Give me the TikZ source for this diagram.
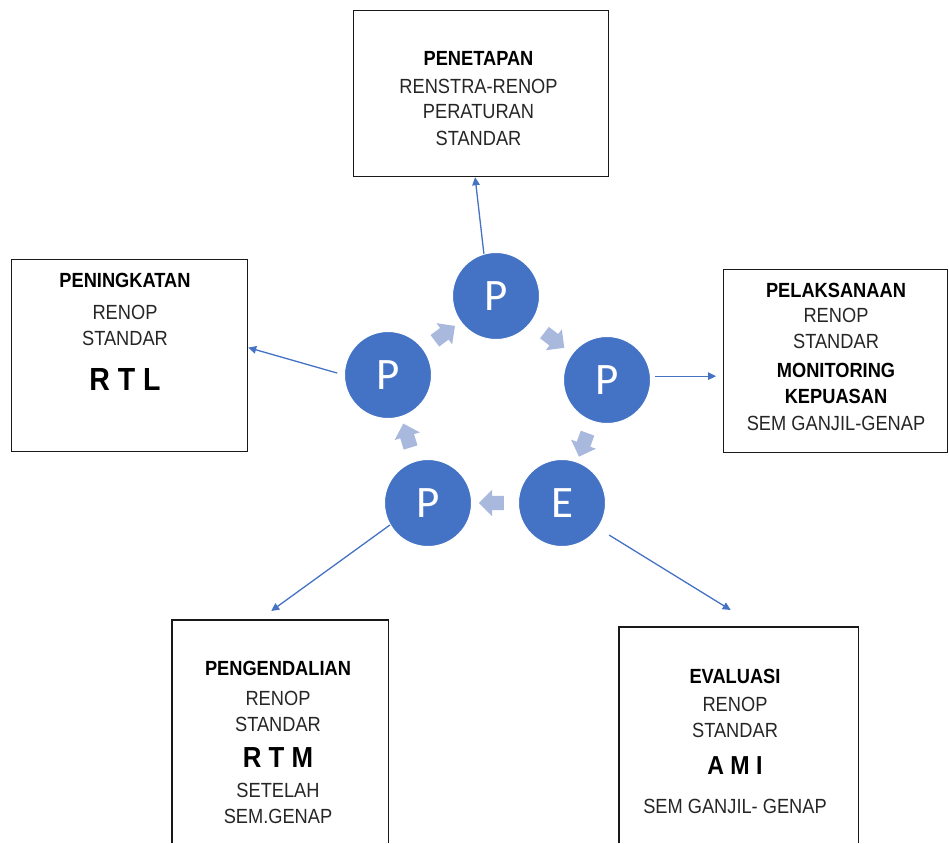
\documentclass[tikz,border=0pt]{standalone}
\usepackage{fontspec}
\setmainfont{Liberation Sans}[FakeStretch=0.89]
\newfontfamily\circfont{Carlito}
\usetikzlibrary{arrows.meta,shapes.arrows,calc}
\definecolor{pblue}{HTML}{4472C4}
\definecolor{lblue}{HTML}{A9B9DE}
\definecolor{txtc}{HTML}{262626}
\begin{document}
\begin{tikzpicture}[x=1pt,y=-1pt,
  box/.style={draw=black!90, line width=1.2pt, inner sep=0pt, anchor=north west},
  openbox/.style={draw=none, inner sep=0pt, anchor=north west},
  pcirc/.style={circle, fill=pblue, draw=white, line width=1pt, minimum size=87pt, inner sep=0pt,
    text=white, font=\circfont\fontsize{45}{45}\selectfont},
  fat/.style={single arrow, fill=lblue, draw=none, inner sep=0pt, inner ysep=7pt,
    minimum height=25pt, single arrow head extend=6pt},
  conn/.style={draw=pblue, line width=1.3pt, -{Triangle[length=8pt,width=7.5pt]}},
  ln/.style={anchor=base, inner sep=0pt, text=txtc, font=\fontsize{20.5}{24}\selectfont},
  hd/.style={ln, text=black, font=\fontsize{20.5}{24}\selectfont\bfseries},
  big/.style={anchor=base, inner sep=0pt, text=black, font=\fontsize{#1}{#1}\selectfont\bfseries}
]
\useasboundingbox (0,0) rectangle (949,843);

% boxes
\node[box, minimum width=255pt, minimum height=166pt] (topbox) at (353,10) {};
\node[box, minimum width=236pt, minimum height=192pt] (lbox) at (11,259) {};
\node[box, minimum width=224pt, minimum height=183pt] (rbox) at (723,269) {};
\node[openbox, minimum width=216pt, minimum height=223pt] (blbox) at (172,620) {};
\node[openbox, minimum width=239pt, minimum height=216pt] (brbox) at (619,627) {};
\draw[black!90, line width=1.2pt] (blbox.south west) |- (blbox.north east) -- (blbox.south east);
\draw[black!90, line width=1.2pt] (brbox.south west) |- (brbox.north east) -- (brbox.south east);

% circles
\node[pcirc] (tp) at (496,296) {P};
\node[pcirc] (rp) at (607,380) {P};
\node[pcirc] (ep) at (562,503) {E};
\node[pcirc] (bp) at (428,503) {P};
\node[pcirc] (lp) at (388,375) {P};

% cycle arrows
\node[fat, rotate=36.5] (f1) at ($(lp)!0.5!(tp)$) {};
\node[fat, rotate=-37.5] (f2) at ($(tp)!0.5!(rp)$) {};
\node[fat, rotate=-110] (f3) at ($(rp)!0.5!(ep)$) {};
\node[fat, rotate=180] (f4) at ($(ep)!0.5!(bp)$) {};
\node[fat, rotate=107] (f5) at ($(bp)!0.5!(lp)$) {};

% connectors
\draw[conn] (tp.106) -- ([xshift=-6pt]topbox.south);
\draw[conn, shorten <=7pt] (lp.180) -- ([yshift=8pt]lbox.east);
\draw[conn, shorten <=4pt, shorten >=7pt] (rp.5) -- (rp.5 -| rbox.west);
\draw[conn] (bp.210) -- ([xshift=-9pt,yshift=9pt]blbox.north);
\draw[conn, shorten <=13pt] (ep.-35) -- ([xshift=-8pt,yshift=17pt]brbox.north);

% top box text
\node[hd] (t1) at (478.5,65) {PENETAPAN};
\node[ln] (t2) at (478.5,93) {RENSTRA-RENOP};
\node[ln] (t3) at (478.5,118) {PERATURAN};
\node[ln] (t4) at (478.5,145) {STANDAR};

% left box text
\node[hd] (l1) at (125,287) {PENINGKATAN};
\node[ln] (l2) at (125,319) {RENOP};
\node[ln] (l3) at (125,345) {STANDAR};
\node[big=32] (l4) at (125,390) {R T L};

% right box text
\node[hd] (r1) at (836,297) {PELAKSANAAN};
\node[ln] (r2) at (836,322) {RENOP};
\node[ln] (r3) at (836,348) {STANDAR};
\node[hd] (r4) at (836,377) {MONITORING};
\node[hd] (r5) at (836,403) {KEPUASAN};
\node[ln] (r6) at (836,430) {SEM GANJIL-GENAP};

% bottom-left box text
\node[hd] (b1) at (278,675) {PENGENDALIAN};
\node[ln] (b2) at (278,705) {RENOP};
\node[ln] (b3) at (278,731) {STANDAR};
\node[big=29] (b4) at (278,767) {R T M};
\node[ln] (b5) at (278,797) {SETELAH};
\node[ln] (b6) at (278,823) {SEM.GENAP};

% bottom-right box text
\node[hd] (e1) at (735,683) {EVALUASI};
\node[ln] (e2) at (735,711) {RENOP};
\node[ln] (e3) at (735,737) {STANDAR};
\node[big=26] (e4) at (735,774) {A M I};
\node[ln] (e5) at (735,813) {SEM GANJIL- GENAP};
\end{tikzpicture}
\end{document}
